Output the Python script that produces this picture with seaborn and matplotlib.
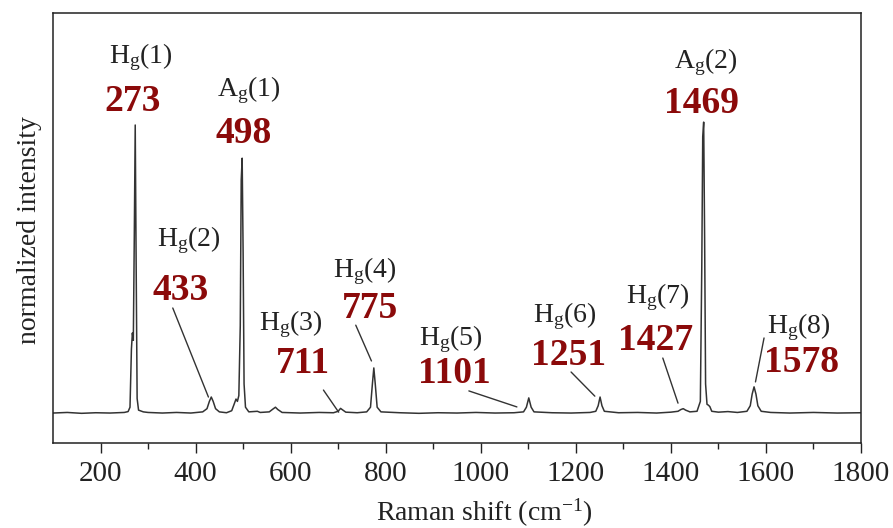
import matplotlib
matplotlib.use("Agg")
import matplotlib.pyplot as plt
import seaborn as sns
import pandas as pd

# ---- spectrum (Raman shift, normalized intensity) ----
shift = [100, 130, 160, 190, 220, 250, 258, 262, 265, 267, 269, 271, 273, 275, 277, 280, 290,
         300, 330, 360, 390, 415, 424, 429, 433, 437, 442, 450, 465, 476, 481, 485, 488,
         491, 494, 496, 498, 500, 502, 505, 512, 530, 536, 555, 563, 568, 573, 582,
         620, 660, 690, 700, 705, 710, 716, 740, 760, 768, 772, 775, 778, 782, 790,
         830, 870, 910, 950, 990, 1030, 1070, 1090, 1096, 1101, 1106, 1112, 1150, 1190,
         1230, 1242, 1247, 1251, 1255, 1260, 1290, 1330, 1370, 1400, 1415, 1421, 1426,
         1431, 1440, 1455, 1462, 1465, 1467, 1469, 1471, 1473, 1476, 1479, 1482, 1486,
         1500, 1520, 1540, 1560, 1567, 1571, 1575, 1579, 1583, 1590, 1610, 1650, 1700,
         1750, 1800]
intensity = [0.000, 0.002, -0.001, 0.001, 0.000, 0.002, 0.005, 0.020, 0.220, 0.275, 0.250, 0.600,
             0.990, 0.500, 0.050, 0.010, 0.004,
             0.002, 0.000, 0.002, 0.000, 0.004, 0.015, 0.040, 0.055, 0.040, 0.015, 0.004, 0.001,
             0.008, 0.030, 0.048, 0.040,
             0.060, 0.300, 0.800, 0.876, 0.550, 0.100, 0.020, 0.004, 0.006, 0.002, 0.004, 0.014,
             0.020, 0.012, 0.002,
             0.000, 0.002, 0.001, 0.006, 0.016, 0.010, 0.003, 0.001, 0.004, 0.020, 0.100, 0.155,
             0.100, 0.020, 0.004,
             0.001, -0.001, 0.001, 0.000, 0.002, 0.000, 0.001, 0.004, 0.020, 0.052, 0.020, 0.004,
             0.001, 0.000,
             0.002, 0.006, 0.025, 0.055, 0.025, 0.006, 0.001, 0.002, 0.000, 0.003, 0.006, 0.012,
             0.015,
             0.010, 0.004, 0.006, 0.040, 0.500, 0.950, 1.000, 0.600, 0.100, 0.030, 0.027, 0.022,
             0.006,
             0.003, 0.005, 0.002, 0.006, 0.025, 0.065, 0.090, 0.065, 0.025, 0.006, 0.002, 0.000,
             0.002,
             0.000, 0.001]

# ---- mode labels ----
modes = ["H$_\\mathrm{g}$(1)", "A$_\\mathrm{g}$(1)", "H$_\\mathrm{g}$(2)", "H$_\\mathrm{g}$(3)",
         "H$_\\mathrm{g}$(4)", "H$_\\mathrm{g}$(5)", "H$_\\mathrm{g}$(6)", "H$_\\mathrm{g}$(7)",
         "A$_\\mathrm{g}$(2)", "H$_\\mathrm{g}$(8)"]
freqs = ["273", "498", "433", "711", "775", "1101", "1251", "1427", "1469", "1578"]
mode_x = [284, 512, 385, 600, 756, 937, 1177, 1373, 1474, 1669]
mode_y = [1.203, 1.089, 0.574, 0.285, 0.467, 0.234, 0.313, 0.378, 1.186, 0.275]
freq_x = [268, 501, 368, 625, 766, 945, 1185, 1368, 1464, 1674]
freq_y = [1.038, 0.928, 0.388, 0.137, 0.326, 0.103, 0.165, 0.216, 1.031, 0.141]

# leader lines (start x, start y, end x, end y)
lead_x0 = [352, 669, 737, 975, 1190, 1383, 1596]
lead_y0 = [0.361, 0.079, 0.302, 0.076, 0.141, 0.189, 0.258]
lead_x1 = [427, 701, 770, 1076, 1240, 1415, 1578]
lead_y1 = [0.055, 0.003, 0.179, 0.021, 0.058, 0.034, 0.107]

xticks = [200, 400, 600, 800, 1000, 1200, 1400, 1600, 1800]

sns.set_theme(style="white")
plt.rcParams["font.family"] = ["Liberation Serif", "DejaVu Serif"]
plt.rcParams["mathtext.fontset"] = "custom"
plt.rcParams["mathtext.rm"] = "Liberation Serif"
plt.rcParams["mathtext.it"] = "Liberation Serif:italic"
plt.rcParams["mathtext.bf"] = "Liberation Serif:bold"

fig = plt.figure(figsize=(8.93, 5.28), dpi=100)
ax = fig.add_axes([53 / 893, 85 / 528, 808 / 893, 430 / 528])

df = pd.DataFrame({"shift": shift, "intensity": intensity})
sns.lineplot(data=df, x="shift", y="intensity", ax=ax, color="#333333",
             linewidth=1.1, estimator=None, sort=False)

ax.set_xlim(100, 1800)
ax.set_ylim(-0.103, 1.375)

label_color = "#222222"
num_color = "#8b0a0a"
for m, x, y in zip(modes, mode_x, mode_y):
    ax.text(x, y, m, ha="center", va="baseline", fontsize=20, color=label_color)
for f, x, y in zip(freqs, freq_x, freq_y):
    ax.text(x, y, f, ha="center", va="baseline", fontsize=27, fontweight="bold", color=num_color)
for x0, y0, x1, y1 in zip(lead_x0, lead_y0, lead_x1, lead_y1):
    ax.plot([x0, x1], [y0, y1], color="#333333", linewidth=1.0)

ax.set_xticks(xticks)
ax.set_xticklabels([str(t) for t in xticks])
ax.set_xticks([t + 100 for t in xticks[:-1]], minor=True)
ax.set_yticks([])
ax.tick_params(axis="x", which="major", direction="out", length=7, width=1.0,
               labelsize=21, pad=6, color="#222222", labelcolor="#222222", bottom=True)
ax.tick_params(axis="x", which="minor", direction="out", length=4, width=1.0,
               color="#222222", bottom=True)

for s in ax.spines.values():
    s.set_visible(True)
    s.set_color("#222222")
    s.set_linewidth(1.1)

ax.set_xlabel("Raman shift (cm$^{-1}$)", fontsize=20, color="#222222")
ax.xaxis.set_label_coords(0.534, -0.125)
ax.set_ylabel("normalized intensity", fontsize=20, color="#222222")
ax.yaxis.set_label_coords(-0.013, 0.495)

fig.savefig("out.png", dpi=100)
